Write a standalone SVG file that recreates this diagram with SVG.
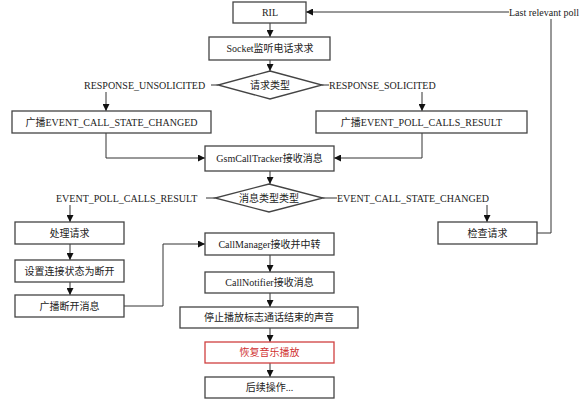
<svg xmlns="http://www.w3.org/2000/svg" width="583" height="400" viewBox="0 0 583 400">
<style>
.b{fill:#fff;stroke:#444;stroke-width:1.3}
.r{fill:#fff;stroke:#d04040;stroke-width:1.3}
.t{font-family:"Liberation Serif","Noto Sans CJK SC",serif;font-size:10px;fill:#222;text-anchor:middle;dominant-baseline:central}
.tl{font-family:"Liberation Serif","Noto Sans CJK SC",serif;font-size:10px;fill:#222;dominant-baseline:central}
.c{fill:none;stroke:#333;stroke-width:1}
</style>
<defs>
<marker id="a" viewBox="0 0 10 10" refX="10" refY="5" markerWidth="7" markerHeight="7" orient="auto" markerUnits="userSpaceOnUse">
<path d="M0,0L10,5L0,10z" fill="#111"/>
</marker>
</defs>
<rect width="583" height="400" fill="#fff"/>
<g id="connectors">
<path class="c" d="M270,23V37" marker-end="url(#a)"/>
<path class="c" d="M270,60V71" marker-end="url(#a)"/>
<path class="c" d="M211,85H218"/>
<path class="c" d="M322,85H329"/>
<path class="c" d="M106,92V111" marker-end="url(#a)"/>
<path class="c" d="M422,92V111" marker-end="url(#a)"/>
<path class="c" d="M509,12H306" marker-end="url(#a)"/>
<path class="c" d="M551,19V233H537"/>
<path class="c" d="M106,133V158H205" marker-end="url(#a)"/>
<path class="c" d="M422,133V158H334" marker-end="url(#a)"/>
<path class="c" d="M270,171V184" marker-end="url(#a)"/>
<path class="c" d="M206,198H215"/>
<path class="c" d="M323,198H337"/>
<path class="c" d="M70,205V222" marker-end="url(#a)"/>
<path class="c" d="M487,205V222" marker-end="url(#a)"/>
<path class="c" d="M70,244V260" marker-end="url(#a)"/>
<path class="c" d="M70,282V295" marker-end="url(#a)"/>
<path class="c" d="M124,306H163V244H205" marker-end="url(#a)"/>
<path class="c" d="M270,255V272" marker-end="url(#a)"/>
<path class="c" d="M270,293V307" marker-end="url(#a)"/>
<path class="c" d="M270,328V342" marker-end="url(#a)"/>
<path class="c" d="M270,363V377" marker-end="url(#a)"/>
</g>
<g id="ril"><rect class="b" x="233" y="2" width="73" height="21"/><text class="t" x="270" y="12.5">RIL</text></g>
<g id="lastpoll"><text class="tl" x="509" y="12">Last relevant poll</text></g>
<g id="socket"><rect class="b" x="209" y="37" width="121" height="23"/><text class="t" x="270" y="48.5">Socket监听电话求求</text></g>
<g id="d1"><polygon class="b" points="270,71 322,85 270,99 218,85"/><text class="t" x="270" y="85">请求类型</text></g>
<g id="lbl1"><text class="tl" x="84" y="85">RESPONSE_UNSOLICITED</text></g>
<g id="lbl2"><text class="tl" x="329" y="85">RESPONSE_SOLICITED</text></g>
<g id="bcast1"><rect class="b" x="12" y="111" width="199" height="22"/><text class="t" x="111.5" y="122">广播EVENT_CALL_STATE_CHANGED</text></g>
<g id="bcast2"><rect class="b" x="316" y="111" width="211" height="22"/><text class="t" x="421.5" y="122">广播EVENT_POLL_CALLS_RESULT</text></g>
<g id="gsm"><rect class="b" x="205" y="146" width="129" height="25"/><text class="t" x="269.5" y="158.5">GsmCallTracker接收消息</text></g>
<g id="d2"><polygon class="b" points="269,184 323,198 269,212 215,198"/><text class="t" x="269" y="198">消息类型类型</text></g>
<g id="lbl3"><text class="tl" x="56" y="198">EVENT_POLL_CALLS_RESULT</text></g>
<g id="lbl4"><text class="tl" x="337" y="198">EVENT_CALL_STATE_CHANGED</text></g>
<g id="handle"><rect class="b" x="15" y="222" width="109" height="22"/><text class="t" x="69.5" y="233">处理请求</text></g>
<g id="setstate"><rect class="b" x="15" y="260" width="109" height="22"/><text class="t" x="69.5" y="271">设置连接状态为断开</text></g>
<g id="bcastdisc"><rect class="b" x="15" y="295" width="109" height="22"/><text class="t" x="69.5" y="306">广播断开消息</text></g>
<g id="check"><rect class="b" x="438" y="222" width="99" height="22"/><text class="t" x="487.5" y="233">检查请求</text></g>
<g id="callmgr"><rect class="b" x="205" y="233" width="129" height="22"/><text class="t" x="269.5" y="244">CallManager接收并中转</text></g>
<g id="notifier"><rect class="b" x="205" y="272" width="129" height="21"/><text class="t" x="269.5" y="282.5">CallNotifier接收消息</text></g>
<g id="stop"><rect class="b" x="180" y="307" width="178" height="21"/><text class="t" x="269" y="317.5">停止播放标志通话结束的声音</text></g>
<g id="resume"><rect class="r" x="205" y="342" width="129" height="21"/><text class="t" x="269.5" y="352.5" style="fill:#d03030">恢复音乐播放</text></g>
<g id="next"><rect class="b" x="205" y="377" width="129" height="21"/><text class="t" x="269.5" y="387.5">后续操作...</text></g>
</svg>
